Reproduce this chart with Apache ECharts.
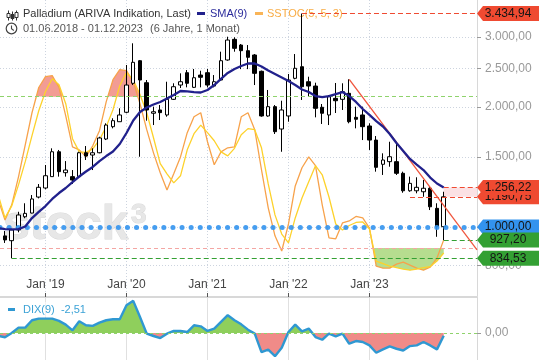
<!DOCTYPE html>
<html><head><meta charset="utf-8">
<script src="https://cdn.jsdelivr.net/npm/echarts@6/dist/echarts.min.js"></script>
<style>html,body{margin:0;padding:0;background:#fff}#c{width:540px;height:360px}</style>
</head><body><div id="c"></div>
<script>
// ---------- DATA ----------
const months = ['2018-06','2018-07','2018-08','2018-09','2018-10','2018-11','2018-12',
 '2019-01','2019-02','2019-03','2019-04','2019-05','2019-06','2019-07','2019-08','2019-09','2019-10','2019-11','2019-12',
 '2020-01','2020-02','2020-03','2020-04','2020-05','2020-06','2020-07','2020-08','2020-09','2020-10','2020-11','2020-12',
 '2021-01','2021-02','2021-03','2021-04','2021-05','2021-06','2021-07','2021-08','2021-09','2021-10','2021-11','2021-12',
 '2022-01','2022-02','2022-03','2022-04','2022-05','2022-06','2022-07','2022-08','2022-09','2022-10','2022-11','2022-12',
 '2023-01','2023-02','2023-03','2023-04','2023-05','2023-06','2023-07','2023-08','2023-09','2023-10','2023-11','2023-12'];
const open  = [985,950,924,983,1061,1084,1189, 1253,1338,1545,1369,1338,1338,1536,1516,1536,1663,1786,1838,
 1941,2295,2615,2303,1930,1967,1911,2092,2272,2440,2242,2407, 2440,2259,2339,2626,2959,2863,2771,2703,2460,1900,2005,1762,
 1900,2362,2526,2316,2259,1998,1911,2104,2092,2166,1885,1911, 1793,1653,1437,1459,1459,1364,1233,1233,1226,1251,1114,1002];
const close = [955,928,983,1072,1082,1176,1258, 1345,1545,1377,1390,1312,1536,1507,1536,1673,1803,1849,1911,
 2272,2591,2339,1967,1947,1937,2092,2250,2316,2295,2370,2376, 2272,2316,2615,2947,2809,2771,2667,2431,1900,2005,1735,1967,
 2339,2503,2250,2259,1986,1930,2124,2075,2186,1838,1864,1786, 1653,1412,1473,1501,1364,1233,1287,1258,1251,1124,1002,1190.75];
const low   = [940,912,834.53,970,1052,1082,1180, 1244,1338,1338,1338,1282,1333,1473,1390,1531,1653,1769,1838,
 1930,2272,1501,1849,1803,1856,1892,2084,2233,2242,2233,2242, 2242,2242,2330,2615,2755,2491,2491,2272,1892,1892,1712,1545,
 1838,2349,2084,2124,1885,1814,1803,1933,1967,1821,1769,1653, 1561,1377,1351,1417,1351,1219,1226,1215,1191,1103,945,927.20];
const high  = [1010,977,990,1092,1147,1203,1282, 1431,1576,1561,1464,1390,1545,1597,1576,1685,1821,1875,1986,
 2551,2892,2626,2339,2005,2024,2316,2295,2431,2478,2493,2468, 2493,2407,2755,3004,2994,2880,2863,2718,2470,2208,2024,2075,
 2422,2718,3434.94,2384,2303,2036,2145,2299,2295,2349,2005,2005, 1821,1692,1531,1637,1622,1377,1338,1333,1312,1262,1147,1226];
const sma9  = [994,988,986,988,1003,1053,1091, 1129,1176,1217,1253,1297,1339,1378,1415,1464,1507,1547,1616,
 1722,1851,1944,1995,2030,2060,2102,2145,2195,2189,2182,2176, 2208,2272,2353,2436,2493,2536,2573,2573,2529,2471,2422,2373,
 2325,2272,2214,2182,2132,2120,2132,2157,2182,2132,2060,1978, 1911,1845,1788,1712,1625,1552,1482,1435,1390,1331,1286,1256.22];
const stochK = [39.1,31.1,37.1,48.2,60.9,73.6,83.6, 87.9,88.3,83.6,72.4,60.1,58.9,56.1,60.5,66.5,78.0,86.7,90.7,
 90.3,85.9,77.2,66.9,57.7,49.8,43.0,49.4,56.1,65.7,72.0,73.6, 62.1,53.0,58.1,59.7,60.1,72.0,73.6,66.9,51.0,35.9,24.8,18.8,
 29.5,44.6,51.8,56.1,52.6,37.1,24.0,23.6,29.9,30.7,32.5,31.9, 27.9,12.8,12.0,12.0,13.6,14.4,13.2,12.0,11.2,12.4,16.0,23.2];
const stochD = [41.0,31.9,36.7,45.0,54.2,64.5,74.4, 82.0,87.1,84.7,77.2,63.3,58.1,57.9,59.3,62.9,68.1,74.8,84.3,
 89.5,86.7,80.8,73.6,63.7,53.4,49.4,45.8,48.6,58.9,65.3,68.7, 65.7,62.5,58.1,56.5,59.5,64.9,67.3,66.9,59.7,45.4,33.1,25.5,
 22.0,31.9,39.8,46.2,52.6,49.0,40.2,29.5,27.1,28.9,30.1,30.3, 27.5,14.8,13.8,12.8,12.2,11.6,11.2,11.6,12.2,12.6,14.8,18.0];
const dix9 = [-2.8,-4,0,5,5,11.9,13.4, 13.4,13.4,11.3,7.8,2.5,10.9,7.2,6.6,9.7,11.9,12.8,12.8,
 25.9,30,15,-0.6,-2.8,-4.7,-0.6,1.9,1.9,0.9,7.2,6.2, 1.9,4,10.3,16.6,11.9,8.1,3.1,-0.6,-17.8,-15.6,-21.6,-13.8,
 0.9,7.8,1.6,4.1,-3.8,-6.3,-0.6,-3.1,-0.6,-10,-7.5,-8.4, -11.6,-18.4,-15.3,-12.5,-14.7,-16.3,-12.2,-11.6,-8.4,-11.6,-15.3,-2.51];
const xTickMonths = ['2019-01','2020-01','2021-01','2022-01','2023-01'];
const xTickLabels = ["Jan '19","Jan '20","Jan '21","Jan '22","Jan '23"];
const yTickValues = [800,1000,1500,2000,2500,3000];
const dixTickValues = [0];
const periodHigh = 3434.94, periodLow = 834.53, lastLow = 927.20, lastClose = 1190.75, lastSma = 1256.22, refLine = 1000;
const trendFrom = ['2022-10', 2349], trendToValue = 876;
const STOCH_HI = 80, STOCH_LO = 20;

// ---------- LAYOUT ----------
const X_MIN = 0.26, X_MAX = 70.93;
const Y_MIN = 671.1, Y_MAX = 3714.5;
const S_MIN = 0.95, S_MAX = 118.3;
const D_MIN = -25.2, D_MAX = 33.6;
const FONT = '"Liberation Sans", Arial, sans-serif';
const RED = '#ef4a31', GREEN = '#33a033', BLUE = '#3393ee', NAVY = '#21218c',
      ORANGE = '#f7a24b', YELLOW = '#fdd22b', PINK_FILL = '#f29c94', GREEN_FILL = '#b6dd8f';

function de(v){
  const s = Number(v).toFixed(2); const p = s.split('.');
  return p[0].replace(/\B(?=(\d{3})+(?!\d))/g,'.') + ',' + p[1];
}
const idx = m => months.indexOf(m);
const xTickValues = xTickMonths.map(idx);
const xLabel = v => { const k = xTickValues.indexOf(Math.round(v)); return k >= 0 ? xTickLabels[k] : ''; };
const last = months.length - 1;

const candles = months.map((m,i)=>[i, open[i], close[i], low[i], high[i]]);
const pts = arr => arr.map((v,i)=>[i,v]);

// polygons of the region between a series and a level (above or below it)
function regionPolys(vals, level, above){
  const polys = []; let cur = null;
  for (let i = 0; i < vals.length; i++){
    const v = vals[i], inside = above ? v > level : v < level;
    if (inside){
      if (!cur){
        if (i > 0){ const p = vals[i-1]; const t = (level - p) / (v - p); cur = [[i-1+t, level]]; }
        else cur = [[i, level]];
      }
      cur.push([i, v]);
    } else if (cur){
      const p = vals[i-1]; const t = (level - p) / (v - p);
      cur.push([i-1+t, level]); polys.push(cur); cur = null;
    }
  }
  if (cur){ cur.push([vals.length-1, level]); polys.push(cur); }
  return polys;
}
function fillSeries(vals, level, above, color, xi, yi, z){
  const polys = regionPolys(vals, level, above);
  return {type:'custom', xAxisIndex:xi, yAxisIndex:yi, data:[[vals.length-1, level]], clip:true, silent:true, z:z,
    renderItem:(params, api)=>({type:'group', children: polys.map(p=>({type:'polygon',
      shape:{points:p.map(d=>api.coord(d))}, style:{fill:color}}))})};
}

const tagPath = 'path://M0,7.5 L6,0 L62,0 L62,15 L6,15 Z';
const tagStyle = (z) => ({silent:true, z:z, symbol:tagPath, symbolSize:[62,15], symbolOffset:[31,0], symbolKeepAspect:false,
  label:{show:true, position:'inside', color:'#141414', fontSize:12, fontFamily:FONT, formatter:p=>de(p.value)}});
const backTags = [{v:lastClose, c:RED}];
const frontTags = [{v:periodHigh, c:RED}, {v:lastSma, c:RED}, {v:refLine, c:BLUE}, {v:lastLow, c:GREEN}, {v:periodLow, c:GREEN}];
const tagData = list => list.map(t=>({coord:[X_MAX, t.v], value:t.v, itemStyle:{color:t.c}}));
const dashLine = (x1, v, x2, color, type, width) => [
  {coord:[x1, v], lineStyle:{color:color, type:type, width:width||1}}, {coord:[x2, v]}];

const series = [
  fillSeries(stochK, STOCH_HI, true, PINK_FILL, 0, 1, 1),
  fillSeries(stochD, STOCH_HI, true, PINK_FILL, 0, 1, 1),
  fillSeries(stochK, STOCH_LO, false, GREEN_FILL, 0, 1, 1),
  fillSeries(stochD, STOCH_LO, false, GREEN_FILL, 0, 1, 1),
  {type:'line', name:'K', xAxisIndex:0, yAxisIndex:1, data:pts(stochK), symbol:'none', z:3,
   lineStyle:{color:ORANGE, width:1.3},
   markLine:{silent:true, symbol:['none','none'], label:{show:false},
     data:[
       [{coord:[X_MIN, STOCH_HI], lineStyle:{color:'#8fd36c', type:[4,3], width:1}}, {coord:[X_MAX, STOCH_HI]}],
       [{coord:[X_MIN, STOCH_LO], lineStyle:{color:'#f4a6a3', type:[4,3], width:1}}, {coord:[X_MAX, STOCH_LO]}]
     ]}},
  {type:'line', name:'D', xAxisIndex:0, yAxisIndex:1, data:pts(stochD), symbol:'none', z:3,
   lineStyle:{color:YELLOW, width:1.3}},
  {type:'candlestick', xAxisIndex:0, yAxisIndex:0, data:candles, encode:{x:0, y:[1,2,3,4]}, barWidth:4, z:4,
   itemStyle:{color:'#ffffff', color0:'#000000', borderColor:'#000000', borderColor0:'#000000', borderWidth:1},
   markArea:{silent:true, itemStyle:{color:'#fbe1e4'},
     data:[[{coord:[last, lastClose]}, {coord:[X_MAX, lastSma]}]]},
   markLine:{silent:true, symbol:['none','none'], label:{show:false}, z:5,
     data:[
       dashLine(idx('2022-03'), periodHigh, X_MAX, RED, [5,3]),
       dashLine(idx('2023-07'), lastClose, X_MAX, RED, [5,3]),
       dashLine(last, lastSma, X_MAX, RED, [5,3]),
       dashLine(last, lastLow, X_MAX, GREEN, [5,3]),
       dashLine(idx('2018-08'), periodLow, X_MAX, GREEN, [5,3]),
       [{coord:[idx(trendFrom[0]), trendFrom[1]], lineStyle:{color:'#f0553d', type:'solid', width:1.3}},
        {coord:[X_MAX, trendToValue]}],
       [{coord:[X_MIN, refLine], lineStyle:{color:BLUE, type:[0.1,9], width:5, cap:'round', opacity:0.9}},
        {coord:[X_MAX, refLine]}]
     ]},
   markPoint:Object.assign(tagStyle(6), {data:tagData(backTags)})},
  {type:'line', name:'SMA', xAxisIndex:0, yAxisIndex:0, data:pts(sma9), symbol:'none', z:5,
   lineStyle:{color:NAVY, width:2.3},
   markPoint:Object.assign(tagStyle(8), {data:tagData(frontTags)})},
  fillSeries(dix9, 0, true, '#8fcf5c', 1, 2, 2),
  fillSeries(dix9, 0, false, '#f08b88', 1, 2, 2),
  {type:'line', name:'DIX', xAxisIndex:1, yAxisIndex:2, data:pts(dix9), symbol:'none', z:3,
   lineStyle:{color:'#2f98d2', width:2.4},
   markLine:{silent:true, symbol:['none','none'], label:{show:false},
     data:[[{coord:[X_MIN, 0], lineStyle:{color:'#8fd36c', type:[3,3], width:1}}, {coord:[X_MAX, 0]}]]}}
];

const option = {
  animation:false,
  backgroundColor:'#ffffff',
  textStyle:{fontFamily:FONT},
  grid:[{left:0, right:63, top:0, height:296}, {left:0, right:63, top:297, bottom:0}],
  xAxis:[
    {type:'value', gridIndex:0, min:X_MIN, max:X_MAX,
     axisLine:{show:false, onZero:false}, axisTick:{show:false, customValues:xTickValues},
     axisLabel:{show:false, customValues:xTickValues},
     splitLine:{show:true, lineStyle:{color:'#cdd4df', type:[1,2]}}},
    {type:'value', gridIndex:1, position:'top', min:X_MIN, max:X_MAX,
     axisLine:{show:true, onZero:false, lineStyle:{color:'#d8d8d8', width:2}},
     axisTick:{show:true, length:4, customValues:xTickValues, lineStyle:{color:'#555'}},
     axisLabel:{customValues:xTickValues, formatter:xLabel, color:'#444', fontSize:12, margin:6},
     splitLine:{show:true, lineStyle:{color:'#e0e0e0'}}}
  ],
  yAxis:[
    {type:'log', gridIndex:0, position:'right', min:Y_MIN, max:Y_MAX, logBase:10,
     axisLine:{show:true, onZero:false, lineStyle:{color:'#d8d8d8'}},
     axisTick:{show:true, length:4, customValues:yTickValues, lineStyle:{color:'#999'}},
     axisLabel:{customValues:yTickValues, formatter:v=>de(v), color:'#999', fontSize:12, margin:8},
     splitLine:{show:true, lineStyle:{color:'#cdd4df', type:[1,2]}}},
    {type:'value', gridIndex:0, min:S_MIN, max:S_MAX, show:false, splitLine:{show:false}},
    {type:'value', gridIndex:1, position:'right', min:D_MIN, max:D_MAX,
     axisLine:{show:true, onZero:false, lineStyle:{color:'#d8d8d8'}},
     axisTick:{show:true, length:4, customValues:dixTickValues, lineStyle:{color:'#999'}},
     axisLabel:{customValues:dixTickValues, formatter:v=>de(v), color:'#999', fontSize:12, margin:8},
     splitLine:{show:false}}
  ],
  graphic:[
    {type:'text', x:3, y:250, z:0, silent:true,
     style:{text:'stock', font:'bold 48px '+FONT, fill:'#e7e7e7', stroke:'#d9d9d9', lineWidth:1, verticalAlign:'bottom'}},
    {type:'text', x:131, y:201, z:0, silent:true,
     style:{text:'3', font:'bold 28px '+FONT, fill:'#e7e7e7', stroke:'#d9d9d9', lineWidth:1, verticalAlign:'top'}},
    {type:'group', left:6, top:8, children:[
      {type:'line', shape:{x1:1.5,y1:0,x2:1.5,y2:10}, style:{stroke:'#333', lineWidth:1}},
      {type:'rect', shape:{x:0,y:3,width:3,height:4}, style:{fill:'#fff', stroke:'#333', lineWidth:1}},
      {type:'line', shape:{x1:5.5,y1:1,x2:5.5,y2:10}, style:{stroke:'#333', lineWidth:1}},
      {type:'rect', shape:{x:4,y:4,width:3,height:4}, style:{fill:'#333', stroke:'#333', lineWidth:1}},
      {type:'line', shape:{x1:9.5,y1:0,x2:9.5,y2:10}, style:{stroke:'#333', lineWidth:1}},
      {type:'rect', shape:{x:8,y:2,width:3,height:5}, style:{fill:'#fff', stroke:'#333', lineWidth:1}}
    ]},
    {type:'text', x:23, y:13.5, style:{text:'Palladium (ARIVA Indikation, Last)', font:'11px '+FONT, fill:'#333', verticalAlign:'middle'}},
    {type:'rect', shape:{x:197, y:12, width:8, height:3}, style:{fill:NAVY}},
    {type:'text', x:210, y:13.5, style:{text:'SMA(9)', font:'11px '+FONT, fill:'#2c2c9c', verticalAlign:'middle'}},
    {type:'rect', shape:{x:255, y:12, width:8, height:3}, style:{fill:'#f9b457'}},
    {type:'text', x:267, y:13.5, style:{text:'SSTOC(5, 5, 3)', font:'11px '+FONT, fill:'#f8ac45', verticalAlign:'middle'}},
    {type:'circle', shape:{cx:11.5, cy:28.5, r:5.3}, style:{fill:'none', stroke:'#444', lineWidth:1.2}},
    {type:'polyline', shape:{points:[[11.5,25.5],[11.5,28.8],[13.8,30.5]]}, style:{fill:'none', stroke:'#444', lineWidth:1.1}},
    {type:'text', x:23, y:28.5, style:{text:'01.06.2018 - 01.12.2023', font:'11px '+FONT, fill:'#555', verticalAlign:'middle'}},
    {type:'text', x:150, y:28.5, style:{text:'(6 Jahre, 1 Monat)', font:'11px '+FONT, fill:'#555', verticalAlign:'middle'}},
    {type:'rect', shape:{x:4, y:302, width:84, height:15}, style:{fill:'rgba(255,255,255,0.55)'}, z:10},
    {type:'rect', shape:{x:8, y:308, width:7, height:3}, style:{fill:'#2f98d2'}, z:11},
    {type:'text', x:23, y:310, z:11, style:{text:'DIX(9)  ' + de(dix9[last]), font:'11px '+FONT, fill:'#3ba2d6', verticalAlign:'middle'}}
  ],
  series:series
};
const chart = echarts.init(document.getElementById('c'), null, {renderer:'canvas'});
chart.setOption(option);
</script></body></html>
